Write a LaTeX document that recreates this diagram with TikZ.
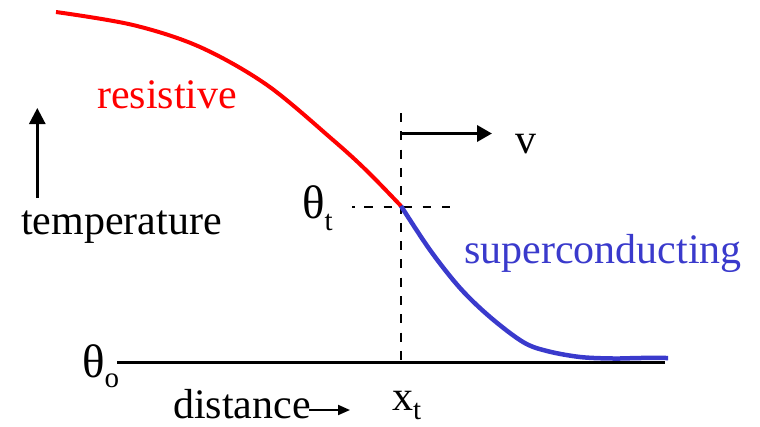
\documentclass[tikz,border=0pt]{standalone}
\usepackage{fontspec}
\setmainfont{Liberation Serif}
\usetikzlibrary{arrows.meta}
\definecolor{resred}{RGB}{255,0,0}
\definecolor{scblue}{RGB}{58,58,204}
\newcommand{\mysub}[2]{\raisebox{-#1pt}{\fontsize{29}{29}\selectfont #2}}
\newcommand{\bigth}{{\fontsize{47}{50}\selectfont θ}}
\begin{document}
\begin{tikzpicture}[x=1pt,y=-1pt,
  txt/.style={inner sep=0pt,anchor=base west,font=\fontsize{42}{50}\selectfont},
  dashline/.style={line width=2.5pt,dash pattern=on 9pt off 9.3pt}]
\useasboundingbox (0,0) rectangle (760,426);
% key coordinates
\coordinate (cross) at (401,206);
\coordinate (axisL) at (117,362.5);
\coordinate (axisR) at (665,362.5);
\coordinate (vtop) at (401,113);
\coordinate (vbot) at (401,362.5);
\coordinate (hL) at (352,207);
\coordinate (hR) at (450,207);
\coordinate (vA) at (400,133.5);
\coordinate (vB) at (492,133.5);
\coordinate (tA) at (37.3,198);
\coordinate (tB) at (37.3,108);
\coordinate (dA) at (309,410);
\coordinate (dB) at (350,410);
% axis
\draw[line width=3.5pt] (axisL) -- (axisR);
% dashed guides
\draw[dashline] (vtop) -- (vbot);
\draw[dashline,dash pattern=on 3pt off 9pt on 8.5pt off 11pt on 8.5pt off 11pt on 8.5pt off 11pt on 8.5pt off 11pt on 8.5pt off 11pt] (hL) -- (hR);
% curves
\draw[resred,line width=4pt] plot[smooth,tension=0.55] coordinates
  {(56,12) (133,25) (200,47) (267,85) (333,140) (367,171) (401,206)};
\draw[scblue,line width=4.5pt] plot[smooth,tension=0.55] coordinates
  {(401,206) (430,250) (460,288) (490,317) (523,342) (547,351) (580,357) (613,358.5) (640,358) (668,358)};
% arrows
\draw[line width=3.5pt,-{Triangle[length=15pt,width=16pt]}] (vA) -- (vB);
\draw[line width=2.7pt,-{Triangle[length=16pt,width=16pt]}] (tA) -- (tB);
\draw[line width=2pt,-{Triangle[length=12pt,width=10pt]}] (dA) -- (dB);
% labels
\node[txt,text=resred] (res) at (97,108) {resistive};
\node[txt] (temp) at (21,234) {temperature};
\node[txt,text=scblue] (sc) at (464,263) {superconducting};
\node[txt] (v) at (515,153) {v};
\node[txt] (thetat) at (302,218) {\bigth\mysub{12}{t}};
\node[txt] (thetao) at (82,377) {\bigth\mysub{10}{o}};
\node[txt] (xt) at (392,410) {x\mysub{9}{t}};
\node[txt] (dist) at (173,418) {distance};
\end{tikzpicture}
\end{document}
